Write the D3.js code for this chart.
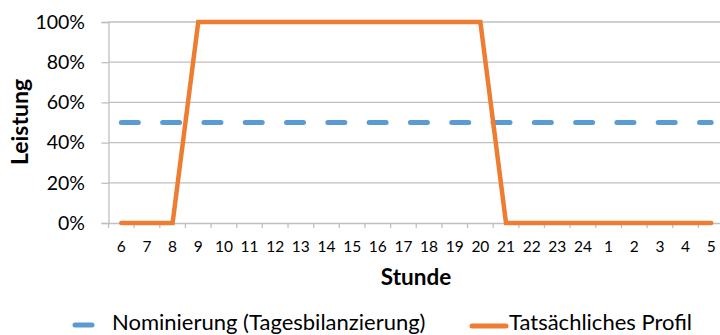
<!DOCTYPE html>
<html><head><meta charset="utf-8">
<script src="https://cdn.jsdelivr.net/npm/d3@7"></script>
<style>body{margin:0;background:#fff}svg{display:block;font-family:Lato,"Open Sans",sans-serif}</style>
</head><body><svg id="c" width="720" height="335"></svg>
<script>
const hours = ["6","7","8","9","10","11","12","13","14","15","16","17","18","19","20","21","22","23","24","1","2","3","4","5"];
const nominierung = [50,50,50,50,50,50,50,50,50,50,50,50,50,50,50,50,50,50,50,50,50,50,50,50];
const profil = [0,0,0,100,100,100,100,100,100,100,100,100,100,100,100,0,0,0,0,0,0,0,0,0];
const yTicks = [0,20,40,60,80,100];
const seriesNames = ["Nominierung (Tagesbilanzierung)","Tatsächliches Profil"];
const colors = ["#5b9bd5","#ed7d31"];

const svg = d3.select("#c");
const L=108.5, R=724, T=22, B=223;
const x = d3.scaleBand().domain(hours).range([L,R]);
const y = d3.scaleLinear().domain([0,100]).range([B,T]);

// gridlines
svg.append("g").selectAll("line").data(yTicks.filter(d=>d>0)).join("line")
  .attr("x1",L).attr("x2",R).attr("y1",d=>y(d)).attr("y2",d=>y(d))
  .attr("stroke","#bfbfbf").attr("stroke-width",1.3);

// y axis
const ya = svg.append("g").attr("transform",`translate(${L},0)`)
  .call(d3.axisLeft(y).tickValues(yTicks).tickFormat(d=>d+"%").tickSize(7).tickPadding(16.5));
ya.select(".domain").attr("stroke","#bfbfbf").attr("stroke-width",1.3);
ya.selectAll(".tick line").attr("stroke","#bfbfbf").attr("stroke-width",1.3);
ya.selectAll("text").attr("font-size",19.5).attr("fill","#000").attr("font-family","Lato");

// x axis
const xa = svg.append("g").attr("transform",`translate(0,${B})`)
  .call(d3.axisBottom(x).tickSize(0).tickPadding(18));
xa.select(".domain").attr("stroke","#bfbfbf").attr("stroke-width",1.3);
xa.selectAll("text").attr("font-size",15.5).attr("fill","#000").attr("font-family","Lato");
xa.selectAll(".tick line").remove();
const bounds = hours.map(h=>x(h)).concat([R]);
xa.append("g").selectAll("line").data(bounds).join("line")
  .attr("x1",d=>d).attr("x2",d=>d).attr("y1",0).attr("y2",5)
  .attr("stroke","#bfbfbf").attr("stroke-width",1.3);

const cx = d=>x(d)+x.bandwidth()/2;
const line = d3.line().x((d,i)=>cx(hours[i])).y(d=>y(d));

svg.append("path").datum(nominierung).attr("d",line).attr("fill","none")
  .attr("stroke",colors[0]).attr("stroke-width",5).attr("stroke-linecap","round")
  .attr("stroke-dasharray","17 24.3");
svg.append("path").datum(profil).attr("d",line).attr("fill","none")
  .attr("stroke",colors[1]).attr("stroke-width",4.5).attr("stroke-linejoin","miter").attr("stroke-linecap","round");

// axis titles
svg.append("text").attr("x",416).attr("y",285).attr("text-anchor","middle")
  .attr("font-size",22.5).attr("font-weight","bold").text("Stunde");
svg.append("text").attr("transform","translate(28,122) rotate(-90)").attr("text-anchor","middle")
  .attr("font-size",23).attr("font-weight","bold").text("Leistung");

// legend
const lg = svg.append("g");
lg.append("line").attr("x1",75).attr("x2",92).attr("y1",325).attr("y2",325)
  .attr("stroke",colors[0]).attr("stroke-width",5).attr("stroke-linecap","round");
lg.append("text").attr("x",112).attr("y",330).attr("font-size",22).text(seriesNames[0]);
lg.append("line").attr("x1",472).attr("x2",506).attr("y1",326).attr("y2",326)
  .attr("stroke",colors[1]).attr("stroke-width",5).attr("stroke-linecap","round");
lg.append("text").attr("x",509).attr("y",330).attr("font-size",22).text(seriesNames[1]);
</script></body></html>
